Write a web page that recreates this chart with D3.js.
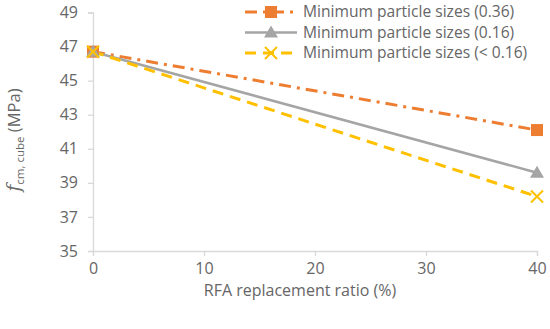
<!DOCTYPE html>
<html>
<head>
<meta charset="utf-8">
<script src="https://cdn.jsdelivr.net/npm/d3@7"></script>
<style>
  body { margin: 0; background: #fff; }
  text { font-family: "Open Sans", sans-serif; fill: #666; }
</style>
</head>
<body>
<svg id="chart" width="550" height="329"></svg>
<script>
// data
const ratios = [0, 40]
const seriesNames = ['Minimum particle sizes (0.36)', 'Minimum particle sizes (0.16)', 'Minimum particle sizes (< 0.16)']
const size036 = [46.7, 42.1]
const size016 = [46.7, 39.6]
const sizeLt016 = [46.7, 38.2]
const xTicks = [0, 10, 20, 30, 40]
const yTicks = [35, 37, 39, 41, 43, 45, 47, 49]

const svg = d3.select('#chart')
const x = d3.scaleLinear().domain([0, 40]).range([93, 537])
const y = d3.scaleLinear().domain([35, 49]).range([251, 12.5])

// axes
const xAxis = svg.append('g').attr('transform', `translate(0,${y(35)})`)
  .call(d3.axisBottom(x).tickValues(xTicks).tickSize(5).tickPadding(7))
const yAxis = svg.append('g').attr('transform', `translate(${x(0)},0)`)
  .call(d3.axisLeft(y).tickValues(yTicks).tickSize(5).tickPadding(10))
;[xAxis, yAxis].forEach(a => {
  a.selectAll('path, line').attr('stroke', '#d9d9d9').attr('stroke-width', 1.3)
  a.selectAll('text').attr('font-size', 16).attr('font-family', '"Open Sans", sans-serif').style('fill', '#666')
})

// lines
const series = [
  { name: seriesNames[0], values: size036, color: '#ED7D31', dash: '12,6,3,6', width: 3, marker: 'square' },
  { name: seriesNames[1], values: size016, color: '#A5A5A5', dash: null, width: 2.6, marker: 'triangle' },
  { name: seriesNames[2], values: sizeLt016, color: '#FFC000', dash: '11,7', width: 3, marker: 'x' },
]
const line = d3.line().x((d, i) => x(ratios[i])).y(d => y(d))

function drawMarker(g, type, color, cx, cy) {
  if (type === 'square') {
    g.append('rect').attr('x', cx - 6).attr('y', cy - 6).attr('width', 12).attr('height', 12).attr('fill', color)
  } else if (type === 'triangle') {
    g.append('path').attr('d', `M${cx},${cy - 7}L${cx + 7},${cy + 5}L${cx - 7},${cy + 5}Z`).attr('fill', color)
  } else {
    g.append('path').attr('d', `M${cx - 6},${cy - 6}L${cx + 6},${cy + 6}M${cx + 6},${cy - 6}L${cx - 6},${cy + 6}`)
      .attr('stroke', color).attr('stroke-width', 2)
  }
}

series.forEach(s => {
  svg.append('path').datum(s.values)
    .attr('d', line).attr('fill', 'none')
    .attr('stroke', s.color).attr('stroke-width', s.width)
    .attr('stroke-dasharray', s.dash)
})
series.forEach(s => {
  s.values.forEach((v, i) => drawMarker(svg, s.marker, s.color, x(ratios[i]), y(v)))
})

// legend
const legend = svg.append('g')
series.forEach((s, i) => {
  const ly = 12 + i * 20.5
  legend.append('line').attr('x1', 245).attr('x2', 297).attr('y1', ly).attr('y2', ly)
    .attr('stroke', s.color).attr('stroke-width', s.width).attr('stroke-dasharray', s.dash)
  drawMarker(legend, s.marker, s.color, 271, ly)
  legend.append('text').attr('x', 303).attr('y', ly).attr('dy', '0.35em')
    .attr('font-size', 15.6).text(s.name)
})

// axis titles
svg.append('text').attr('x', 300).attr('y', 296).attr('text-anchor', 'middle')
  .attr('font-size', 16).text('RFA replacement ratio (%)')
const yt = svg.append('text').attr('transform', 'translate(20,140) rotate(-90)')
  .attr('text-anchor', 'middle').attr('font-size', 16.5)
yt.append('tspan').attr('font-style', 'italic').attr('font-family', 'DejaVu Serif, serif').attr('font-size', 18.5).text('f')
yt.append('tspan').attr('font-size', 11.5).attr('dy', 4).text('cm, cube')
yt.append('tspan').attr('dy', -4).text(' (MPa)')
</script>
</body>
</html>
